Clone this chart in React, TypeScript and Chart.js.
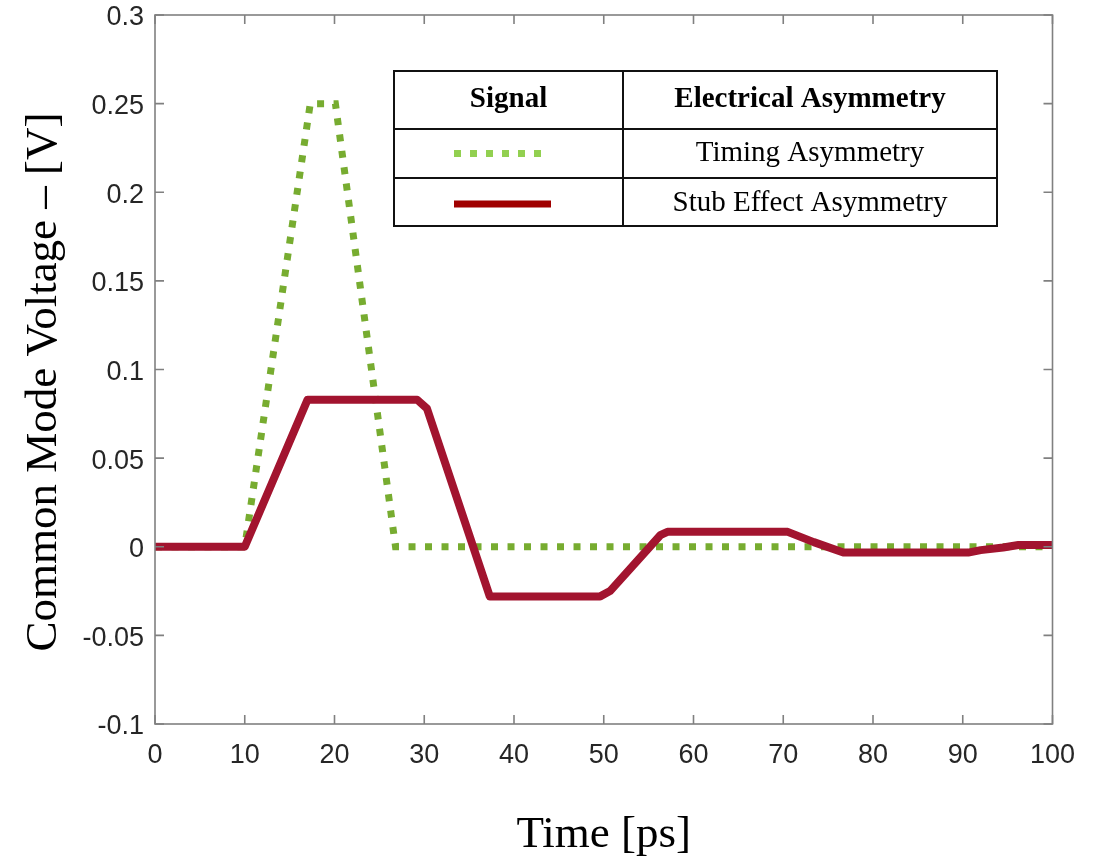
import React, { useEffect, useRef } from "react";
import { Chart, registerables } from "chart.js";

Chart.register(...registerables);

const timingX = [0, 10, 17.3, 20.1, 26.8, 100];
const timingY = [0, 0, 0.25, 0.25, 0, 0];

const stubX = [0, 10, 17, 29.2, 30.3, 37.3, 49.6, 50.7, 56.3, 57.1, 70.5, 73.4, 76.7, 90.6, 92, 94.5, 96.2, 100];
const stubY = [0, 0, 0.083, 0.083, 0.078, -0.028, -0.028, -0.025, 0.0065, 0.0084, 0.0084, 0.0026, -0.0033, -0.0033, -0.0019, -0.0004, 0.001, 0.001];

const xTickValues = [0, 10, 20, 30, 40, 50, 60, 70, 80, 90, 100];
const xTickLabels = ["0", "10", "20", "30", "40", "50", "60", "70", "80", "90", "100"];
const yTickValues = [-0.1, -0.05, 0, 0.05, 0.1, 0.15, 0.2, 0.25, 0.3];
const yTickLabels = ["-0.1", "-0.05", "0", "0.05", "0.1", "0.15", "0.2", "0.25", "0.3"];

const xTitle = "Time [ps]";
const yTitle = "Common Mode Voltage – [V]";
const legendHeaders = ["Signal", "Electrical Asymmetry"];
const legendNames = ["Timing Asymmetry", "Stub Effect Asymmetry"];

const W = 1096;
const H = 859;

const framePlugin = {
  id: "frame",
  afterDraw(chart: any) {
    const { ctx, chartArea } = chart;
    const { left, right, top, bottom } = chartArea;
    const xs = chart.scales.x;
    const ys = chart.scales.y;
    ctx.save();
    ctx.strokeStyle = "#808080";
    ctx.lineWidth = 1.6;
    ctx.strokeRect(left, top, right - left, bottom - top);
    const tl = 9;
    ctx.beginPath();
    xTickValues.forEach((v) => {
      const px = xs.getPixelForValue(v);
      ctx.moveTo(px, bottom);
      ctx.lineTo(px, bottom - tl);
      ctx.moveTo(px, top);
      ctx.lineTo(px, top + tl);
    });
    yTickValues.forEach((v) => {
      const py = ys.getPixelForValue(v);
      ctx.moveTo(left, py);
      ctx.lineTo(left + tl, py);
      ctx.moveTo(right, py);
      ctx.lineTo(right - tl, py);
    });
    ctx.stroke();

    // axis titles
    ctx.fillStyle = "#000000";
    ctx.font = "45px 'Liberation Serif', 'Times New Roman', serif";
    ctx.textAlign = "center";
    ctx.textBaseline = "middle";
    ctx.fillText(xTitle, (left + right) / 2, 835);
    ctx.save();
    ctx.translate(44, 382);
    ctx.rotate(-Math.PI / 2);
    ctx.fillText(yTitle, 0, 0);
    ctx.restore();

    // legend table
    const tx0 = 394, tx1 = 623, tx2 = 997;
    const ty0 = 71, ty1 = 129, ty2 = 178, ty3 = 226;
    ctx.fillStyle = "#ffffff";
    ctx.fillRect(tx0, ty0, tx2 - tx0, ty3 - ty0);
    ctx.strokeStyle = "#111111";
    ctx.lineWidth = 2;
    ctx.strokeRect(tx0, ty0, tx2 - tx0, ty3 - ty0);
    ctx.beginPath();
    ctx.moveTo(tx0, ty1); ctx.lineTo(tx2, ty1);
    ctx.moveTo(tx0, ty2); ctx.lineTo(tx2, ty2);
    ctx.moveTo(tx1, ty0); ctx.lineTo(tx1, ty3);
    ctx.stroke();

    ctx.fillStyle = "#000000";
    ctx.textAlign = "center";
    ctx.textBaseline = "alphabetic";
    ctx.font = "bold 29px 'Liberation Serif'";
    ctx.fillText(legendHeaders[0], (tx0 + tx1) / 2, 107);
    ctx.fillText(legendHeaders[1], (tx1 + tx2) / 2, 107);
    ctx.font = "29px 'Liberation Serif'";
    ctx.fillText(legendNames[0], (tx1 + tx2) / 2, 161);
    ctx.fillText(legendNames[1], (tx1 + tx2) / 2, 211);

    // legend symbols
    ctx.lineCap = "butt";
    ctx.strokeStyle = "#92D050";
    ctx.lineWidth = 7;
    ctx.setLineDash([7, 9]);
    ctx.beginPath();
    ctx.moveTo(454, 153.5);
    ctx.lineTo(543, 153.5);
    ctx.stroke();
    ctx.setLineDash([]);
    ctx.strokeStyle = "#A00000";
    ctx.beginPath();
    ctx.moveTo(454, 204);
    ctx.lineTo(551, 204);
    ctx.stroke();
    ctx.restore();
  },
};

export default function App() {
  const ref = useRef<HTMLCanvasElement | null>(null);
  useEffect(() => {
    if (!ref.current) return;
    const tickFont = { family: "'Liberation Sans', Arial, sans-serif", size: 27, lineHeight: 1 };
    const chart = new Chart(ref.current, {
      type: "line",
      data: {
        datasets: [
          {
            label: legendNames[1],
            data: stubX.map((x, i) => ({ x, y: stubY[i] })),
            borderColor: "#A2142F",
            borderWidth: 8,
            borderJoinStyle: "round",
            borderCapStyle: "round",
            pointRadius: 0,
            fill: false,
            tension: 0,
          },
          {
            label: legendNames[0],
            data: timingX.map((x, i) => ({ x, y: timingY[i] })),
            borderColor: "#77AC30",
            borderWidth: 7,
            borderDash: [7, 9.5],
            borderCapStyle: "butt",
            borderJoinStyle: "miter",
            pointRadius: 0,
            fill: false,
            tension: 0,
          },
        ],
      },
      options: {
        responsive: false,
        animation: false,
        layout: { padding: { left: 0, right: 43.5, top: 15, bottom: 0 } },
        plugins: { legend: { display: false }, tooltip: { enabled: false } },
        scales: {
          x: {
            type: "linear",
            min: 0,
            max: 100,
            afterBuildTicks: (s: any) => {
              s.ticks = xTickValues.map((v) => ({ value: v }));
            },
            afterFit: (s: any) => {
              s.height = 135;
              s.paddingLeft = 0;
              s.paddingRight = 0;
            },
            ticks: {
              callback: (_v: any, i: number) => xTickLabels[i],
              font: tickFont,
              color: "#262626",
              padding: 18,
              maxRotation: 0,
              autoSkip: false,
            },
            grid: { display: false, drawTicks: false },
            border: { display: false },
            title: { display: false },
          },
          y: {
            type: "linear",
            min: -0.1,
            max: 0.3,
            afterBuildTicks: (s: any) => {
              s.ticks = yTickValues.map((v) => ({ value: v }));
            },
            afterFit: (s: any) => {
              s.width = 155;
              s.paddingTop = 0;
              s.paddingBottom = 0;
            },
            ticks: {
              callback: (_v: any, i: number) => yTickLabels[i],
              font: tickFont,
              color: "#262626",
              padding: 11,
              labelOffset: 3,
              autoSkip: false,
            },
            grid: { display: false, drawTicks: false },
            border: { display: false },
            title: { display: false },
          },
        },
      },
      plugins: [framePlugin],
    } as any);
    return () => chart.destroy();
  }, []);
  return (
    <canvas
      ref={ref}
      width={W}
      height={H}
      style={{ position: "fixed", left: 0, top: 0, width: W, height: H, background: "#ffffff" }}
    />
  );
}
